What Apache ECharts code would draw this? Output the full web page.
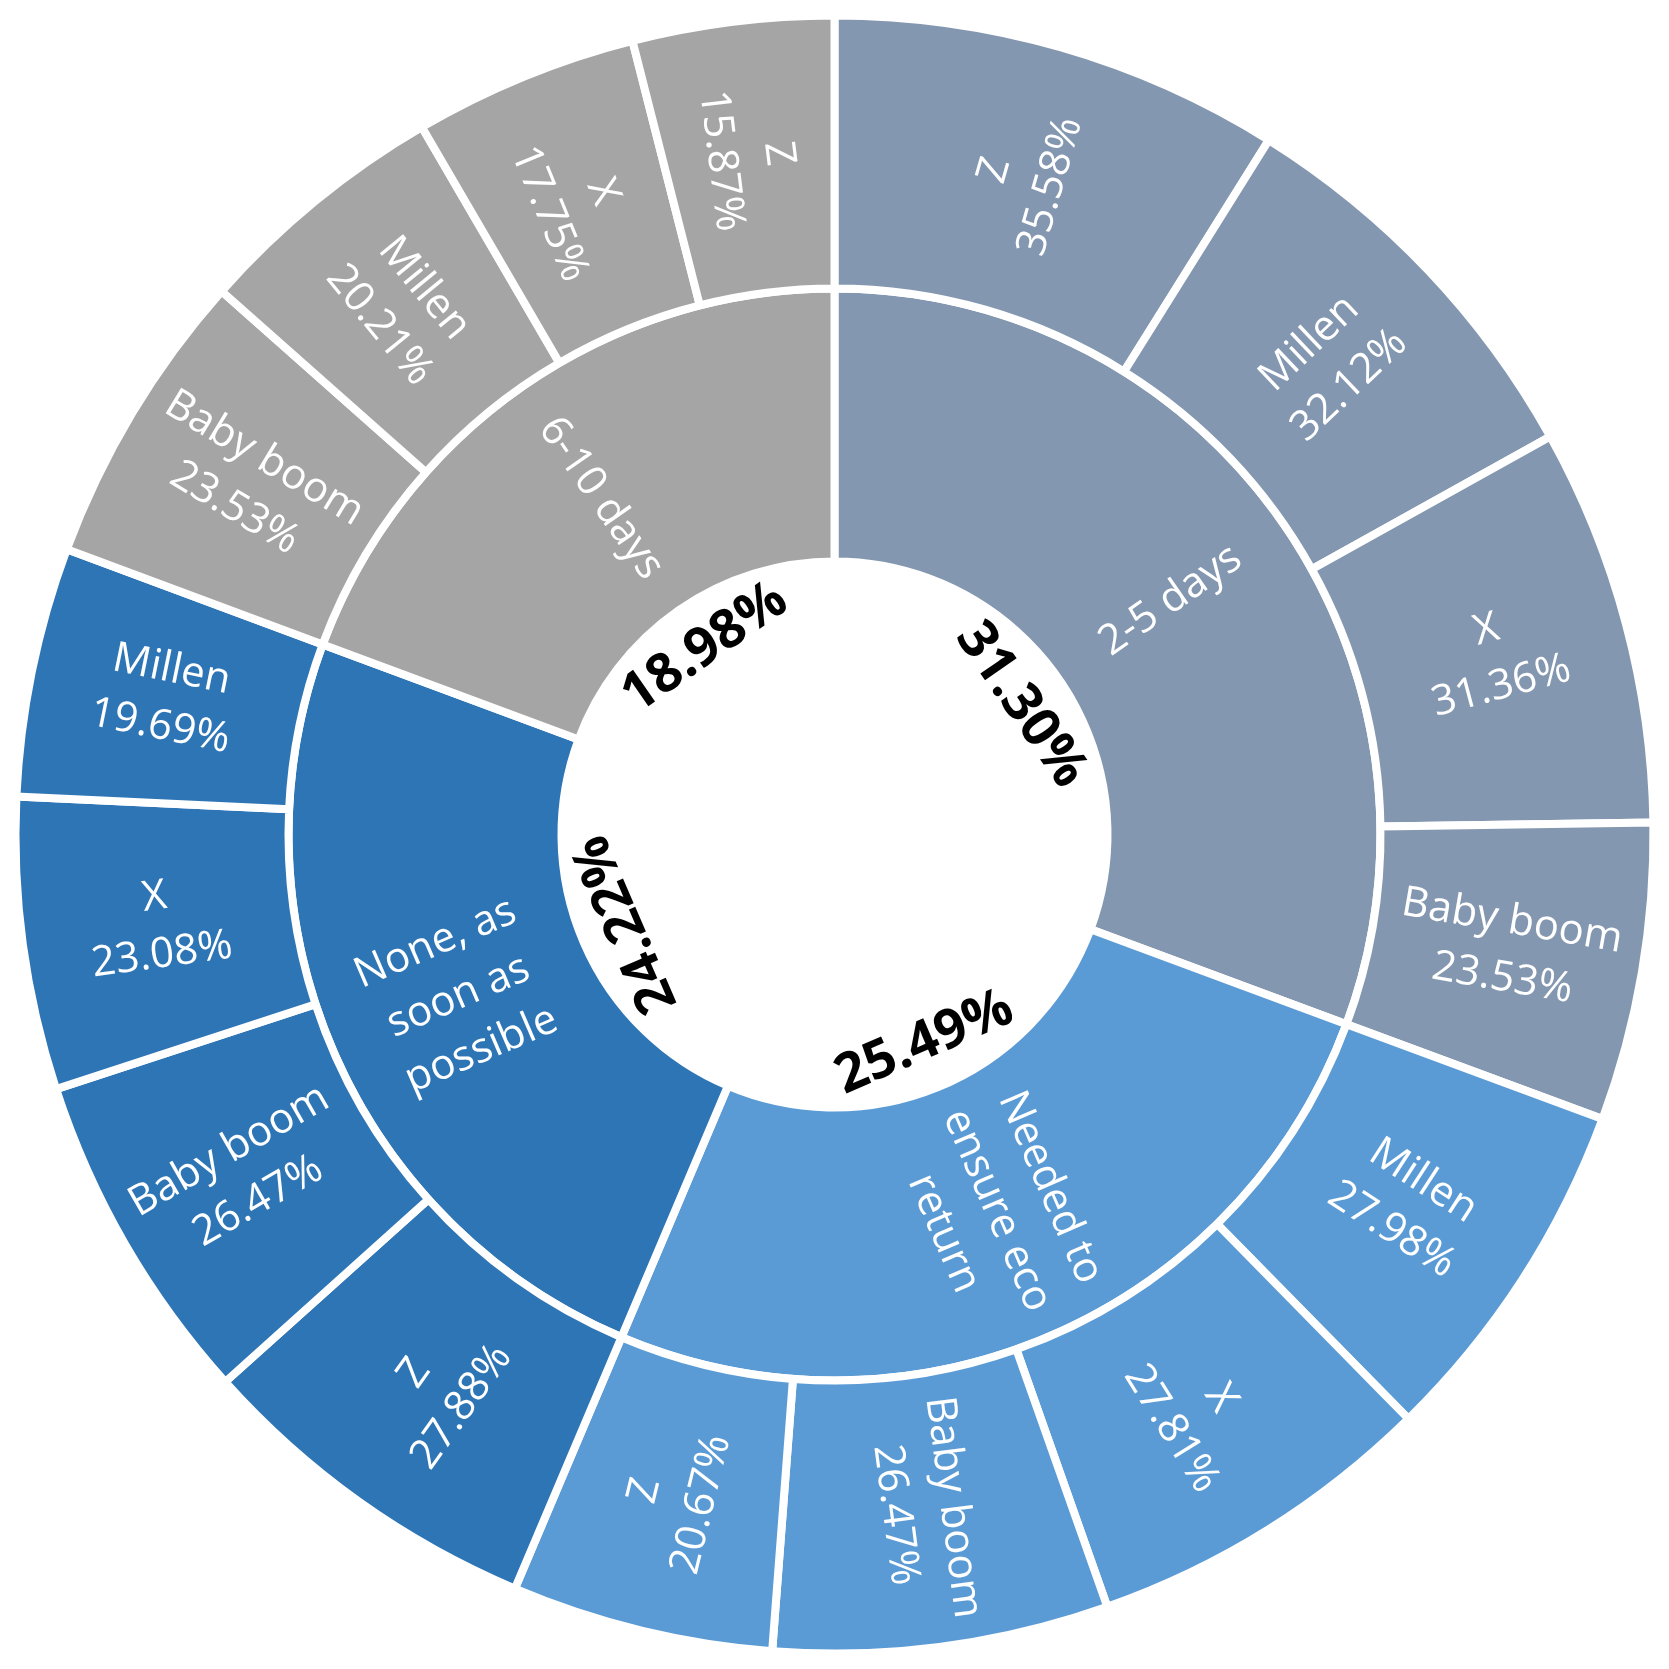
<!DOCTYPE html>
<html>
<head>
<meta charset="utf-8">
<script src="https://cdn.jsdelivr.net/npm/echarts@6/dist/echarts.min.js"></script>
<style>
  html, body { margin: 0; background: #fff; }
  #chart { width: 1669px; height: 1669px; }
</style>
</head>
<body>
<div id="chart"></div>
<script>
// inner ring (wait time), clockwise from 12 o'clock
const innerNames = ['2-5 days', 'Needed to\nensure eco\nreturn', 'None, as\nsoon as\npossible', '6-10 days']
const innerValues = [31.30, 25.49, 24.22, 18.98]
const innerColors = ['#8497B0', '#5B9BD5', '#2E75B6', '#A5A5A5']

// outer ring (generation) inside each inner slice
const outerNames = [
  ['Z', 'Millen', 'X', 'Baby boom'],
  ['Millen', 'X', 'Baby boom', 'Z'],
  ['Z', 'Baby boom', 'X', 'Millen'],
  ['Baby boom', 'Millen', 'X', 'Z']
]
const outerValues = [
  [35.58, 32.12, 31.36, 23.53],
  [27.98, 27.81, 26.47, 20.67],
  [27.88, 26.47, 23.08, 19.69],
  [23.53, 20.21, 17.75, 15.87]
]

const fontFamily = '"Open Sans", "Noto Sans", sans-serif'

// slice sizes come from the leaves, inner slices are their sums
const sunData = innerNames.map((name, i) => ({
  name: name,
  itemStyle: { color: innerColors[i] },
  children: outerNames[i].map((n, j) => ({
    name: n,
    value: outerValues[i][j],
    itemStyle: { color: innerColors[i] }
  }))
}))

// bold percentages around the hole, turned along the circle
const sums = outerValues.map(arr => arr.reduce((a, b) => a + b, 0))
const total = sums.reduce((a, b) => a + b, 0)
let acc = 0
const pctData = sums.map((v, i) => {
  const mid = (acc + v / 2) / total * 360
  acc += v
  let rot = mid
  if (mid > 90 && mid < 180) rot -= 180
  return { value: v, pct: innerValues[i], label: { rotate: -rot } }
})

const chart = echarts.init(document.getElementById('chart'))
chart.setOption({
  backgroundColor: '#fff',
  animation: false,
  series: [
    {
      type: 'sunburst',
      center: ['50%', '50%'],
      sort: null,
      nodeClick: false,
      startAngle: 90,
      emphasis: { disabled: true },
      data: sunData,
      itemStyle: { borderColor: '#fff', borderWidth: 8 },
      label: {
        rotate: 'radial',
        color: '#fff',
        fontFamily: fontFamily,
        fontSize: 42,
        lineHeight: 58,
        align: 'center',
        formatter: p => p.treePathInfo.length > 2 ? p.name + '\n' + p.value.toFixed(2) + '%' : p.name
      },
      levels: [
        {},
        { r0: 273, r: 546 },
        { r0: 546, r: 819 }
      ]
    },
    {
      type: 'pie',
      center: ['50%', '50%'],
      radius: [174, 274],
      startAngle: 90,
      clockwise: true,
      silent: true,
      avoidLabelOverlap: false,
      itemStyle: { color: 'rgba(0,0,0,0)' },
      labelLine: { show: false },
      label: {
        position: 'inside',
        color: '#000',
        fontFamily: fontFamily,
        fontWeight: 'bold',
        fontSize: 54,
        formatter: p => p.data.pct.toFixed(2) + '%'
      },
      data: pctData
    }
  ]
})
</script>
</body>
</html>
